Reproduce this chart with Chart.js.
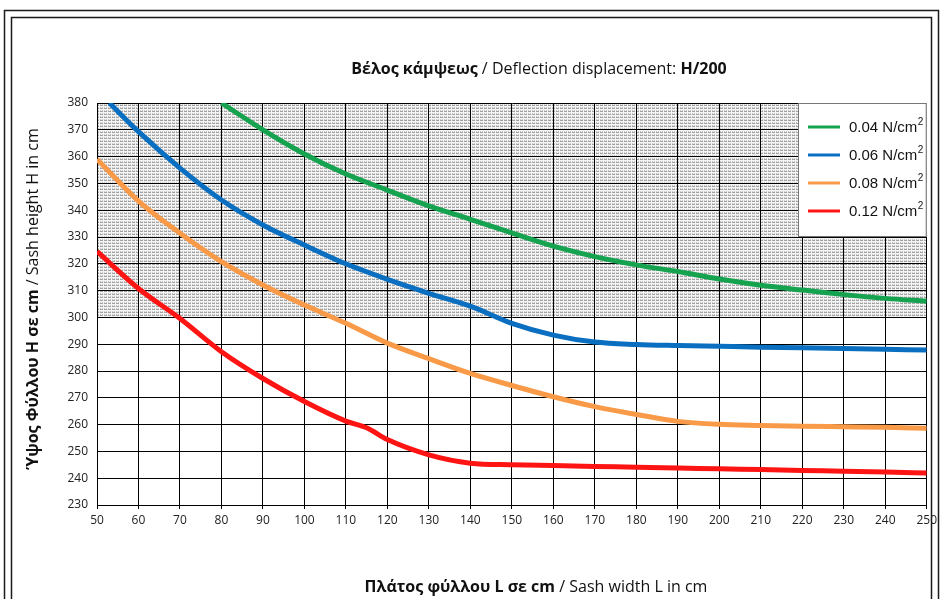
<!DOCTYPE html>
<html>
<head>
<meta charset="utf-8">
<script src="https://cdn.jsdelivr.net/npm/chart.js@4.4.1/dist/chart.umd.min.js"></script>
<style>
  html, body { margin: 0; padding: 0; background: #fff; }
  #wrap { width: 941px; height: 599px; position: relative; }
</style>
</head>
<body>
<div id="wrap"><canvas id="chart" width="941" height="599"></canvas></div>
<script>
// --- Data ---
const seriesLabels = ['0.04 N/cm', '0.06 N/cm', '0.08 N/cm', '0.12 N/cm'];
const seriesColors = ['#16a34f', '#0a6fc0', '#f99a48', '#ff1414'];

const greenX = [80, 90, 100, 110, 120, 130, 140, 150, 160, 170, 180, 190, 200, 210, 220, 230, 240, 250];
const greenY = [380, 370, 361, 353.5, 347.5, 341.6, 336.6, 331.5, 326.6, 322.7, 319.6, 317.1, 314.3, 312, 310.2, 308.5, 307.1, 306];

const blueX = [53, 60, 70, 80, 90, 100, 110, 120, 130, 140, 150, 160, 170, 180, 190, 200, 210, 220, 230, 240, 250];
const blueY = [380, 369.3, 355.7, 343.8, 334.5, 327, 320, 314.2, 309, 304.2, 297.8, 293.4, 290.8, 289.9, 289.5, 289.2, 288.9, 288.7, 288.4, 288.1, 287.8];

const orangeX = [50, 60, 70, 80, 90, 100, 110, 120, 130, 140, 150, 160, 170, 180, 190, 200, 210, 220, 230, 240, 250];
const orangeY = [359, 343.4, 331.4, 320.8, 312.1, 304.6, 297.8, 290.4, 284.6, 279.1, 274.6, 270.4, 266.7, 263.8, 261.2, 260.1, 259.7, 259.4, 259.2, 259, 258.6];

const redX = [50, 60, 70, 80, 90, 100, 110, 115, 120, 130, 140, 150, 160, 170, 180, 190, 200, 210, 220, 230, 240, 250];
const redY = [324.6, 310.8, 299.6, 287.2, 277.2, 268.6, 261.3, 258.8, 254.4, 248.7, 245.6, 245, 244.7, 244.4, 244.1, 243.8, 243.5, 243.2, 242.9, 242.6, 242.3, 241.9];

const xMin = 50, xMax = 250, xStep = 10;
const yMin = 230, yMax = 380, yStep = 10;
const zoneFrom = 300, zoneTo = 380;   // hatched area

const toPoints = (xs, ys) => xs.map((x, i) => ({ x: x, y: ys[i] }));
const seriesData = [toPoints(greenX, greenY), toPoints(blueX, blueY), toPoints(orangeX, orangeY), toPoints(redX, redY)];

// hatch pattern for the zone above H=300
const makeHatch = (ctx) => {
    const c = document.createElement('canvas');
    c.width = 4; c.height = 3;
    const p = c.getContext('2d');
    p.fillStyle = '#f4f4f4'; p.fillRect(0, 0, 4, 3);
    p.fillStyle = '#a2a2a2'; p.fillRect(0, 0, 3, 1);
    p.fillStyle = '#cacaca'; p.fillRect(0, 2, 1, 1); p.fillRect(2, 2, 1, 1);
    return ctx.createPattern(c, 'repeat');
};

const FONT = '"Open Sans", "DejaVu Sans", sans-serif';
const NARROW = '"Liberation Sans Narrow", "Open Sans", sans-serif';

const decorPlugin = {
    id: 'decor',
    beforeDraw(chart) {
        const { ctx, chartArea, scales } = chart;
        const top = scales.y.getPixelForValue(zoneTo);
        const bottom = scales.y.getPixelForValue(zoneFrom);
        ctx.save();
        ctx.fillStyle = makeHatch(ctx);
        ctx.fillRect(chartArea.left, top, chartArea.right - chartArea.left, bottom - top);
        ctx.restore();
    },
    afterDraw(chart) {
        const { ctx, scales } = chart;
        ctx.save();
        // double frame
        ctx.strokeStyle = '#1a1a1a';
        ctx.lineWidth = 1.5;
        ctx.strokeRect(4.5, 10.5, 934, 600);
        ctx.strokeRect(11.5, 17.5, 920, 600);

        // title with mixed weights
        const drawMixed = (parts, cx, cy, size) => {
            let w = 0;
            parts.forEach(p => { ctx.font = `${p[1]} ${size}px ${FONT}`; w += ctx.measureText(p[0]).width; });
            let x = cx - w / 2;
            ctx.textBaseline = 'middle';
            ctx.textAlign = 'left';
            ctx.fillStyle = '#111';
            parts.forEach(p => {
                ctx.font = `${p[1]} ${size}px ${FONT}`;
                ctx.fillText(p[0], x, cy);
                x += ctx.measureText(p[0]).width;
            });
        };
        drawMixed([['Βέλος κάμψεως', 'bold'], [' / Deflection displacement: ', 'normal'], ['H/200', 'bold']], 539, 69, 16);
        drawMixed([['Πλάτος φύλλου L σε cm', 'bold'], [' / Sash width L in cm', 'normal']], 536, 587, 16);
        ctx.save();
        ctx.translate(33, 299);
        ctx.rotate(-Math.PI / 2);
        drawMixed([['Ύψος Φύλλου H σε cm', 'bold'], [' / Sash height H in cm', 'normal']], 0, 0, 16);
        ctx.restore();

        // legend box in the top right of the plot
        const lx = 798, ly = scales.y.getPixelForValue(yMax), lw = scales.x.right - lx, lh = 134;
        ctx.fillStyle = '#fff';
        ctx.fillRect(lx, ly, lw, lh);
        ctx.strokeStyle = '#777';
        ctx.lineWidth = 1;
        ctx.strokeRect(lx + 0.5, ly + 0.5, lw - 1, lh - 1);
        chart.data.datasets.forEach((ds, i) => {
            const rowY = ly + 24 + i * 28;
            ctx.strokeStyle = ds.borderColor;
            ctx.lineWidth = 3;
            ctx.beginPath();
            ctx.moveTo(lx + 10, rowY);
            ctx.lineTo(lx + 42, rowY);
            ctx.stroke();
            ctx.fillStyle = '#111';
            ctx.textAlign = 'left';
            ctx.textBaseline = 'middle';
            ctx.font = '15px "Liberation Sans", Arial, sans-serif';
            ctx.fillText(ds.label, lx + 51, rowY + 1);
            const tw = ctx.measureText(ds.label).width;
            ctx.font = '10px "Liberation Sans", Arial, sans-serif';
            ctx.fillText('2', lx + 51 + tw + 0.5, rowY - 5);
        });
        ctx.restore();
    }
};

new Chart(document.getElementById('chart'), {
    type: 'line',
    data: {
        datasets: seriesData.map((d, i) => ({
            label: seriesLabels[i],
            data: d,
            borderColor: seriesColors[i],
            backgroundColor: seriesColors[i],
            borderWidth: 5,
            pointRadius: 0,
            cubicInterpolationMode: 'monotone',
            fill: false
        }))
    },
    options: {
        responsive: false,
        animation: false,
        layout: { padding: { left: 0, top: 103, right: 12, bottom: 0 } },
        plugins: { legend: { display: false }, tooltip: { enabled: false }, title: { display: false } },
        scales: {
            x: {
                type: 'linear',
                min: xMin, max: xMax,
                ticks: { stepSize: xStep, color: '#222', padding: 4, maxRotation: 0, font: { family: NARROW, size: 12 } },
                grid: { color: '#000', lineWidth: 1, tickLength: 4, tickColor: '#000' },
                border: { color: '#000', width: 1 },
                afterFit: (s) => { s.height = 94; }
            },
            y: {
                min: yMin, max: yMax,
                ticks: { stepSize: yStep, color: '#222', padding: 9, font: { family: NARROW, size: 12 } },
                grid: { color: '#000', lineWidth: 1, drawTicks: false },
                border: { color: '#000', width: 1 },
                afterFit: (s) => { s.width = 97; }
            }
        }
    },
    plugins: [decorPlugin]
});
</script>
</body>
</html>
